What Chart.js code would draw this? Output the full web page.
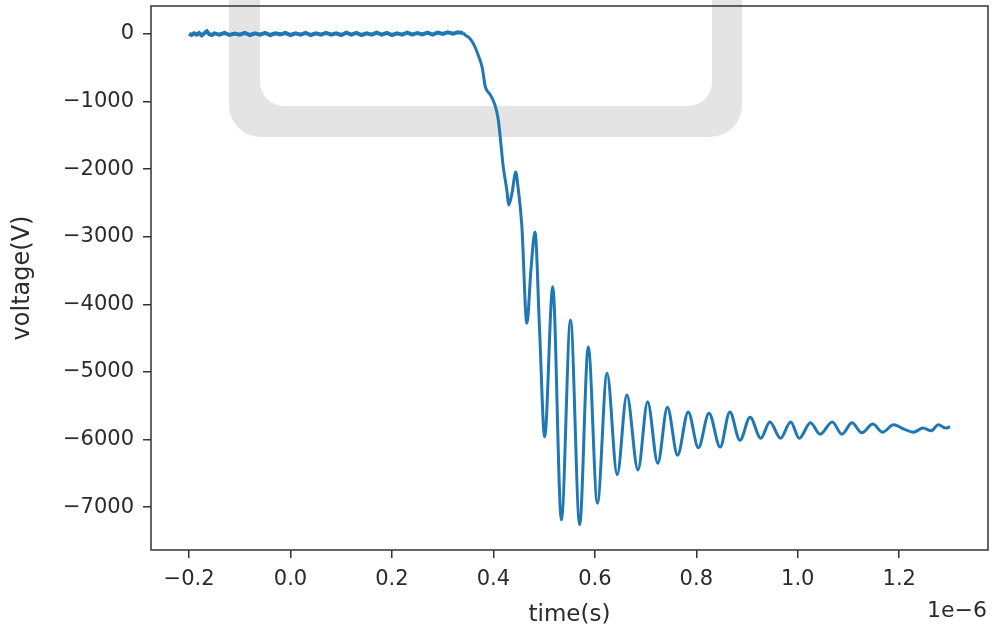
<!DOCTYPE html>
<html>
<head>
<meta charset="utf-8">
<script src="https://cdn.jsdelivr.net/npm/chart.js@4"></script>
<style>
  html, body { margin: 0; padding: 0; background: #fff; }
  canvas { display: block; }
</style>
</head>
<body>
<canvas id="chart" width="992" height="631"></canvas>
<script>
// time axis is in units of 1e-6 s (shown as offset text "1e−6")
// noisy flat part before the pulse
const flatTime = [
  -0.200, -0.195, -0.190, -0.185, -0.180, -0.175, -0.170, -0.165, -0.160, -0.155,
  -0.150, -0.140, -0.130, -0.120, -0.110, -0.100, -0.090, -0.080, -0.070, -0.060,
  -0.050, -0.040, -0.030, -0.020, -0.010, 0.000, 0.010, 0.020, 0.030, 0.040,
  0.050, 0.060, 0.070, 0.080, 0.090, 0.100, 0.110, 0.120, 0.130, 0.140,
  0.150, 0.160, 0.170, 0.180, 0.190, 0.200, 0.210, 0.220, 0.230, 0.240,
  0.250, 0.260, 0.270, 0.280, 0.290, 0.300, 0.310, 0.320, 0.330, 0.340
];
const flatVolt = [
  5, -15, 10, -10, 15, -20, 10, 40, -5, -15,
  10, -10, 15, -15, 5, -10, 15, -15, 10, -10,
  15, -15, 10, -5, 15, -15, 10, -10, 15, -15,
  10, -10, 15, -10, 10, -15, 20, -10, 15, -15,
  10, -10, 20, -10, 15, -15, 10, -10, 20, -10,
  15, -5, 20, -10, 20, 0, 25, 5, 25, 15
];

// the pulse edge and the ringing after it
const stepTime = [
  0.340, 0.347, 0.351, 0.360, 0.370, 0.378, 0.384, 0.394, 0.403, 0.409,
  0.413, 0.419, 0.427, 0.430, 0.437, 0.444, 0.448, 0.456, 0.466, 0.474,
  0.482, 0.491, 0.501, 0.517, 0.534, 0.552, 0.570, 0.587, 0.605, 0.624,
  0.644, 0.663, 0.685, 0.704, 0.724, 0.743, 0.763, 0.784, 0.804, 0.825,
  0.847, 0.866, 0.886, 0.906, 0.927, 0.945, 0.966, 0.986, 1.003, 1.025,
  1.044, 1.068, 1.087, 1.107, 1.126, 1.148, 1.167, 1.189, 1.208, 1.228,
  1.247, 1.263, 1.277, 1.292, 1.300
];
const stepVolt = [
  15, -30, -45, -135, -310, -500, -780, -900, -1050, -1240,
  -1490, -1940, -2340, -2530, -2340, -2040, -2230, -2830, -4280, -3490,
  -2930, -4380, -5960, -3740, -7190, -4230, -7260, -4630, -6940, -5020,
  -6520, -5340, -6450, -5440, -6350, -5520, -6230, -5590, -6120, -5610,
  -6110, -5590, -6010, -5670, -5980, -5740, -5980, -5740, -5980, -5750,
  -5920, -5740, -5920, -5750, -5900, -5770, -5890, -5780, -5840, -5890,
  -5830, -5870, -5780, -5830, -5810
];

const xTicks = [-0.2, 0.0, 0.2, 0.4, 0.6, 0.8, 1.0, 1.2];
const yTicks = [0, -1000, -2000, -3000, -4000, -5000, -6000, -7000];

const textColor = "#2b2b2b";
const lineColor = "#1f77b4";
const family = "'DejaVu Sans', sans-serif";
const tickFont = { family: family, size: 21 };

function minusFmt(v, digits) {
  const s = Math.abs(v).toFixed(digits);
  return (v < 0 ? "\u2212" : "") + s;
}

// grey watermark band behind the plot
const watermark = {
  id: "watermark",
  beforeDatasetsDraw(chart) {
    const ctx = chart.ctx;
    ctx.save();
    ctx.fillStyle = "#e4e4e4";
    ctx.beginPath();
    ctx.roundRect(229, -40, 513, 177, 32);
    ctx.fill();
    ctx.fillStyle = "#ffffff";
    ctx.beginPath();
    ctx.roundRect(260, -40, 452, 146, 24);
    ctx.fill();
    ctx.restore();
  }
};

// matplotlib-like frame and offset text
const frame = {
  id: "frame",
  afterDraw(chart) {
    const a = chart.chartArea;
    const ctx = chart.ctx;
    ctx.save();
    ctx.strokeStyle = "#333";
    ctx.lineWidth = 1.5;
    ctx.strokeRect(a.left, a.top, a.right - a.left, a.bottom - a.top);
    ctx.fillStyle = textColor;
    ctx.font = "22px " + family;
    ctx.textAlign = "right";
    ctx.textBaseline = "middle";
    ctx.fillText("1e\u22126", a.right - 1, 611);
    ctx.restore();
  }
};

const toPoints = (xs, ys) => xs.map((t, i) => ({ x: t, y: ys[i] }));

new Chart(document.getElementById("chart"), {
  type: "line",
  data: {
    datasets: [{
      data: toPoints(flatTime, flatVolt),
      borderColor: lineColor,
      borderWidth: 4,
      pointRadius: 0,
      fill: false,
      tension: 0
    }, {
      data: toPoints(stepTime, stepVolt),
      borderColor: lineColor,
      borderWidth: 3,
      pointRadius: 0,
      fill: false,
      cubicInterpolationMode: "monotone"
    }]
  },
  options: {
    responsive: false,
    animation: false,
    layout: { padding: { top: 6, right: 4, left: 0, bottom: 0 } },
    plugins: {
      legend: { display: false },
      tooltip: { enabled: false }
    },
    scales: {
      x: {
        type: "linear",
        min: -0.275,
        max: 1.375,
        afterBuildTicks: s => { s.ticks = xTicks.map(v => ({ value: v })); },
        afterFit: s => { s.height = 81; s.paddingLeft = 0; s.paddingRight = 0; },
        ticks: {
          color: textColor,
          font: tickFont,
          padding: 9,
          maxRotation: 0,
          callback: v => minusFmt(v, 1)
        },
        grid: { drawOnChartArea: false, drawTicks: true, tickLength: 8, color: "#333", lineWidth: 1.5 },
        border: { display: false },
        title: { display: true, text: "time(s)", color: textColor, font: { family: family, size: 23 }, padding: { top: 0, bottom: 2 } }
      },
      y: {
        type: "linear",
        min: -7633,
        max: 414,
        afterBuildTicks: s => { s.ticks = yTicks.map(v => ({ value: v })); },
        afterFit: s => { s.width = 151; s.paddingTop = 0; s.paddingBottom = 0; },
        ticks: {
          color: textColor,
          font: tickFont,
          padding: 9,
          callback: v => minusFmt(v, 0)
        },
        grid: { drawOnChartArea: false, drawTicks: true, tickLength: 8, color: "#333", lineWidth: 1.5 },
        border: { display: false },
        title: { display: true, text: "voltage(V)", color: textColor, font: { family: family, size: 24 }, padding: { top: 8, bottom: 0 } }
      }
    }
  },
  plugins: [watermark, frame]
});
</script>
</body>
</html>
